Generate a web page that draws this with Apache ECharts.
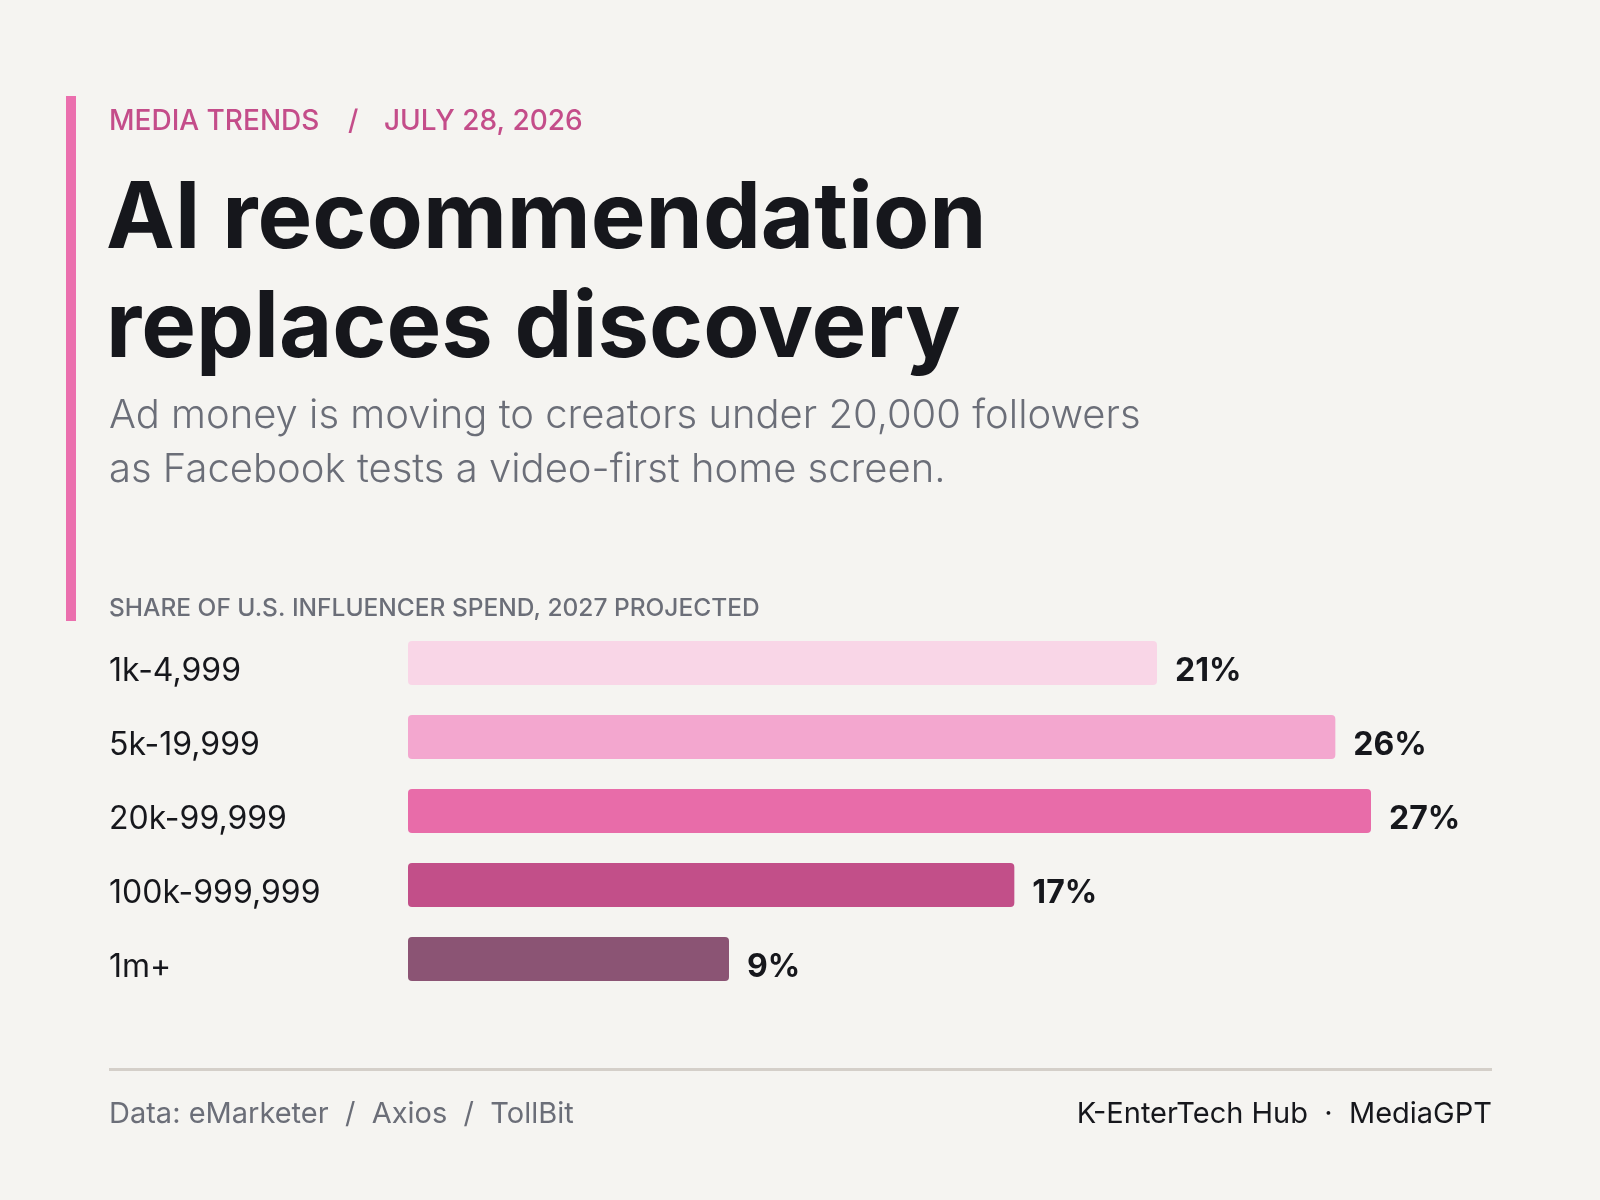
<!DOCTYPE html>
<html>
<head>
<meta charset="utf-8">
<script src="https://cdn.jsdelivr.net/npm/echarts@6/dist/echarts.min.js"></script>
<style>
    html, body { margin: 0; padding: 0; background: #f5f4f1; }
    #chart { width: 1600px; height: 1200px; }
</style>
</head>
<body>
<div id="chart"></div>
<script>
const categories = ['1k-4,999', '5k-19,999', '20k-99,999', '100k-999,999', '1m+'];
const shares = [21, 26, 27, 17, 9];
const barColors = ['#f9d6e7', '#f3a7cf', '#e86ca9', '#c24f89', '#8b5474'];

const font = 'Inter, "Open Sans", sans-serif';
const pink = '#c44d8a';
const grey = '#6b6e78';
const ink = '#16171c';

const chart = echarts.init(document.getElementById('chart'));

const option = {
    backgroundColor: '#f5f4f1',
    animation: false,
    grid: {
        left: 408,
        right: 122,
        top: 626,
        height: 370
    },
    xAxis: {
        type: 'value',
        min: 0,
        max: 30,
        show: false
    },
    yAxis: {
        type: 'category',
        data: categories,
        inverse: true,
        axisLine: { show: false },
        axisTick: { show: false },
        axisLabel: {
            align: 'left',
            margin: 299,
            formatter: '{a|{value}}',
            rich: {
                a: {
                    color: ink,
                    fontFamily: font,
                    fontSize: 32,
                    padding: [16, 0, 0, 0]
                }
            }
        }
    },
    series: [
        {
            type: 'bar',
            barWidth: 44,
            data: shares.map((v, i) => ({
                value: v,
                itemStyle: { color: barColors[i] }
            })),
            itemStyle: { borderRadius: 4 },
            label: {
                show: true,
                position: 'right',
                distance: 18,
                offset: [0, 8],
                formatter: '{c}%',
                color: ink,
                fontFamily: font,
                fontSize: 32,
                fontWeight: 'bold'
            }
        }
    ],
    graphic: [
        { type: 'rect', left: 66, top: 96, shape: { width: 10, height: 525 }, style: { fill: '#eb6fae' } },
        {
            type: 'text', x: 109, y: 122,
            style: { text: 'MEDIA TRENDS', fill: pink, font: '500 28px ' + font, verticalAlign: 'middle' }
        },
        {
            type: 'text', x: 348, y: 122,
            style: { text: '/', fill: pink, font: '500 28px ' + font, verticalAlign: 'middle' }
        },
        {
            type: 'text', x: 384, y: 122,
            style: { text: 'JULY 28, 2026', fill: pink, font: '500 28px ' + font, verticalAlign: 'middle' }
        },
        {
            type: 'text', x: 106, y: 220,
            style: { text: 'AI recommendation', fill: ink, font: 'bold 92px ' + font, verticalAlign: 'middle' }
        },
        {
            type: 'text', x: 106, y: 329,
            style: { text: 'replaces discovery', fill: ink, font: 'bold 92px ' + font, verticalAlign: 'middle' }
        },
        {
            type: 'text', x: 109, y: 416,
            style: { text: 'Ad money is moving to creators under 20,000 followers', fill: grey, font: '300 40px ' + font, verticalAlign: 'middle' }
        },
        {
            type: 'text', x: 109, y: 470,
            style: { text: 'as Facebook tests a video-first home screen.', fill: grey, font: '300 40px ' + font, verticalAlign: 'middle' }
        },
        {
            type: 'text', x: 109, y: 609,
            style: { text: 'SHARE OF U.S. INFLUENCER SPEND, 2027 PROJECTED', fill: grey, font: '500 24.5px ' + font, verticalAlign: 'middle' }
        },
        { type: 'rect', left: 109, top: 1068, shape: { width: 1383, height: 3 }, style: { fill: '#d4cfc9' } },
        {
            type: 'text', x: 109, y: 1114,
            style: { text: 'Data: eMarketer  /  Axios  /  TollBit', fill: grey, font: '29px ' + font, verticalAlign: 'middle' }
        },
        {
            type: 'text', x: 1492, y: 1114,
            style: { text: 'K-EnterTech Hub  ·  MediaGPT', fill: ink, font: '29px ' + font, align: 'right', verticalAlign: 'middle' }
        }
    ]
};

chart.setOption(option);
</script>
</body>
</html>
